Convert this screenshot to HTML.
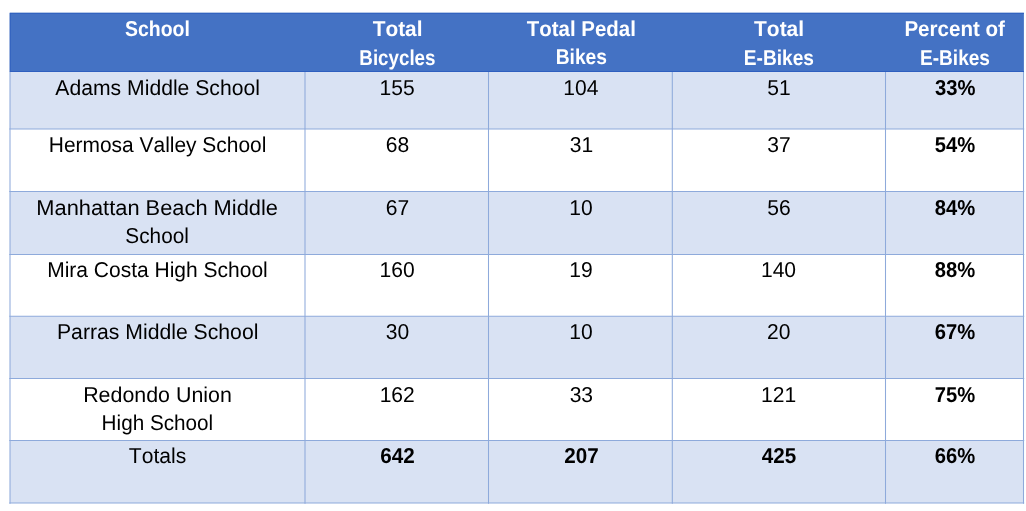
<!DOCTYPE html>
<html><head><meta charset="utf-8"><style>
html,body{margin:0;padding:0;background:#fff;width:1026px;height:511px;overflow:hidden}
svg{display:block}
.t{filter:opacity(1)}
.wrap{will-change:transform}
svg text{font-family:"Liberation Sans",sans-serif;font-size:21.5px;font-kerning:none;text-rendering:geometricPrecision}
</style></head><body>
<svg width="1026" height="511" viewBox="0 0 1026 511">
<rect x="0" y="0" width="1026" height="511" fill="#fff"/>
<!-- banded rows -->
<rect x="10" y="71.5" width="1013.5" height="57.5" fill="#d9e2f3"/>
<rect x="10" y="191.5" width="1013.5" height="62.9" fill="#d9e2f3"/>
<rect x="10" y="316.3" width="1013.5" height="62.2" fill="#d9e2f3"/>
<rect x="10" y="440.5" width="1013.5" height="62.5" fill="#d9e2f3"/>
<!-- header -->
<rect x="9.6" y="12.7" width="1014.3" height="59.3" fill="#4472c4"/>
<!-- grid lines -->
<defs><filter id="bl" x="-1%" y="-1%" width="102%" height="102%"><feGaussianBlur stdDeviation="0.45"/></filter></defs>
<g stroke="#8eaadb" stroke-width="1.05" fill="none" filter="url(#bl)">
<line x1="10" y1="71.5" x2="10" y2="503.7"/>
<line x1="305" y1="71.5" x2="305" y2="503.7"/>
<line x1="488.5" y1="71.5" x2="488.5" y2="503.7"/>
<line x1="672.3" y1="71.5" x2="672.3" y2="503.7"/>
<line x1="885.5" y1="71.5" x2="885.5" y2="503.7"/>
<line x1="1023.5" y1="71.5" x2="1023.5" y2="503.7"/>
<line x1="9.3" y1="129" x2="1024.2" y2="129"/>
<line x1="9.3" y1="191.5" x2="1024.2" y2="191.5"/>
<line x1="9.3" y1="254.4" x2="1024.2" y2="254.4"/>
<line x1="9.3" y1="316.3" x2="1024.2" y2="316.3"/>
<line x1="9.3" y1="378.5" x2="1024.2" y2="378.5"/>
<line x1="9.3" y1="440.5" x2="1024.2" y2="440.5"/>
<line x1="9.3" y1="503" x2="1024.2" y2="503"/>
</g>
<g stroke="#2f5fbf" stroke-width="1" fill="none">
<line x1="10" y1="13.4" x2="1024" y2="13.4" stroke-width="0.9"/>
<line x1="10.3" y1="13" x2="10.3" y2="72" stroke-width="0.8"/>
<line x1="10" y1="71.5" x2="1024" y2="71.5"/>
</g>
<g class="t">
<text x="125.04" y="35.90" textLength="64.84" lengthAdjust="spacingAndGlyphs" font-weight="bold" fill="#fff">School</text>
<text x="372.67" y="35.90" textLength="49.81" lengthAdjust="spacingAndGlyphs" font-weight="bold" fill="#fff">Total</text>
<text x="359.35" y="64.60" textLength="76.12" lengthAdjust="spacingAndGlyphs" font-weight="bold" fill="#fff">Bicycles</text>
<text x="526.87" y="35.70" textLength="108.98" lengthAdjust="spacingAndGlyphs" font-weight="bold" fill="#fff">Total Pedal</text>
<text x="555.71" y="64.40" textLength="51.27" lengthAdjust="spacingAndGlyphs" font-weight="bold" fill="#fff">Bikes</text>
<text x="754.06" y="35.90" textLength="50.02" lengthAdjust="spacingAndGlyphs" font-weight="bold" fill="#fff">Total</text>
<text x="743.82" y="64.60" textLength="70.06" lengthAdjust="spacingAndGlyphs" font-weight="bold" fill="#fff">E-Bikes</text>
<text x="904.42" y="35.70" textLength="100.54" lengthAdjust="spacingAndGlyphs" font-weight="bold" fill="#fff">Percent of</text>
<text x="920.02" y="64.50" textLength="69.96" lengthAdjust="spacingAndGlyphs" font-weight="bold" fill="#fff">E-Bikes</text>
<text x="55.36" y="94.70" textLength="204.56" lengthAdjust="spacingAndGlyphs" fill="#000">Adams Middle School</text>
<text x="48.78" y="152.05" textLength="217.62" lengthAdjust="spacingAndGlyphs" fill="#000">Hermosa Valley School</text>
<text x="36.31" y="214.90" textLength="241.66" lengthAdjust="spacingAndGlyphs" fill="#000">Manhattan Beach Middle</text>
<text x="125.36" y="242.50" textLength="63.53" lengthAdjust="spacingAndGlyphs" fill="#000">School</text>
<text x="47.18" y="277.40" textLength="220.63" lengthAdjust="spacingAndGlyphs" fill="#000">Mira Costa High School</text>
<text x="56.96" y="339.00" textLength="201.46" lengthAdjust="spacingAndGlyphs" fill="#000">Parras Middle School</text>
<text x="83.14" y="401.70" textLength="148.75" lengthAdjust="spacingAndGlyphs" fill="#000">Redondo Union</text>
<text x="101.60" y="430.40" textLength="111.58" lengthAdjust="spacingAndGlyphs" fill="#000">High School</text>
<text x="128.83" y="462.65" textLength="57.44" lengthAdjust="spacingAndGlyphs" fill="#000">Totals</text>
<text x="379.56" y="94.70" textLength="35.15" lengthAdjust="spacingAndGlyphs" fill="#000">155</text>
<text x="563.23" y="94.70" textLength="35.15" lengthAdjust="spacingAndGlyphs" fill="#000">104</text>
<text x="767.27" y="94.70" textLength="23.44" lengthAdjust="spacingAndGlyphs" fill="#000">51</text>
<text x="934.91" y="94.70" textLength="40.45" lengthAdjust="spacingAndGlyphs" font-weight="bold" fill="#000">33%</text>
<text x="385.70" y="152.05" textLength="23.44" lengthAdjust="spacingAndGlyphs" fill="#000">68</text>
<text x="569.70" y="152.05" textLength="23.44" lengthAdjust="spacingAndGlyphs" fill="#000">31</text>
<text x="767.31" y="152.05" textLength="23.44" lengthAdjust="spacingAndGlyphs" fill="#000">37</text>
<text x="934.83" y="152.05" textLength="40.45" lengthAdjust="spacingAndGlyphs" font-weight="bold" fill="#000">54%</text>
<text x="385.78" y="214.90" textLength="23.44" lengthAdjust="spacingAndGlyphs" fill="#000">67</text>
<text x="569.19" y="214.90" textLength="23.44" lengthAdjust="spacingAndGlyphs" fill="#000">10</text>
<text x="767.22" y="214.90" textLength="23.44" lengthAdjust="spacingAndGlyphs" fill="#000">56</text>
<text x="934.82" y="214.90" textLength="40.45" lengthAdjust="spacingAndGlyphs" font-weight="bold" fill="#000">84%</text>
<text x="379.53" y="277.40" textLength="35.15" lengthAdjust="spacingAndGlyphs" fill="#000">160</text>
<text x="569.28" y="277.40" textLength="23.44" lengthAdjust="spacingAndGlyphs" fill="#000">19</text>
<text x="760.93" y="277.40" textLength="35.15" lengthAdjust="spacingAndGlyphs" fill="#000">140</text>
<text x="934.82" y="277.40" textLength="40.45" lengthAdjust="spacingAndGlyphs" font-weight="bold" fill="#000">88%</text>
<text x="385.79" y="339.00" textLength="23.44" lengthAdjust="spacingAndGlyphs" fill="#000">30</text>
<text x="569.19" y="339.00" textLength="23.44" lengthAdjust="spacingAndGlyphs" fill="#000">10</text>
<text x="767.06" y="339.00" textLength="23.44" lengthAdjust="spacingAndGlyphs" fill="#000">20</text>
<text x="934.77" y="339.00" textLength="40.45" lengthAdjust="spacingAndGlyphs" font-weight="bold" fill="#000">67%</text>
<text x="379.65" y="401.70" textLength="35.15" lengthAdjust="spacingAndGlyphs" fill="#000">162</text>
<text x="569.64" y="401.70" textLength="23.44" lengthAdjust="spacingAndGlyphs" fill="#000">33</text>
<text x="761.03" y="401.70" textLength="35.15" lengthAdjust="spacingAndGlyphs" fill="#000">121</text>
<text x="934.71" y="401.70" textLength="40.45" lengthAdjust="spacingAndGlyphs" font-weight="bold" fill="#000">75%</text>
<text x="380.32" y="462.65" textLength="34.44" lengthAdjust="spacingAndGlyphs" font-weight="bold" fill="#000">642</text>
<text x="564.18" y="462.65" textLength="34.44" lengthAdjust="spacingAndGlyphs" font-weight="bold" fill="#000">207</text>
<text x="761.81" y="462.65" textLength="34.44" lengthAdjust="spacingAndGlyphs" font-weight="bold" fill="#000">425</text>
<text x="934.77" y="462.65" textLength="40.45" lengthAdjust="spacingAndGlyphs" font-weight="bold" fill="#000">66%</text>
</g>
</svg>
</body></html>
